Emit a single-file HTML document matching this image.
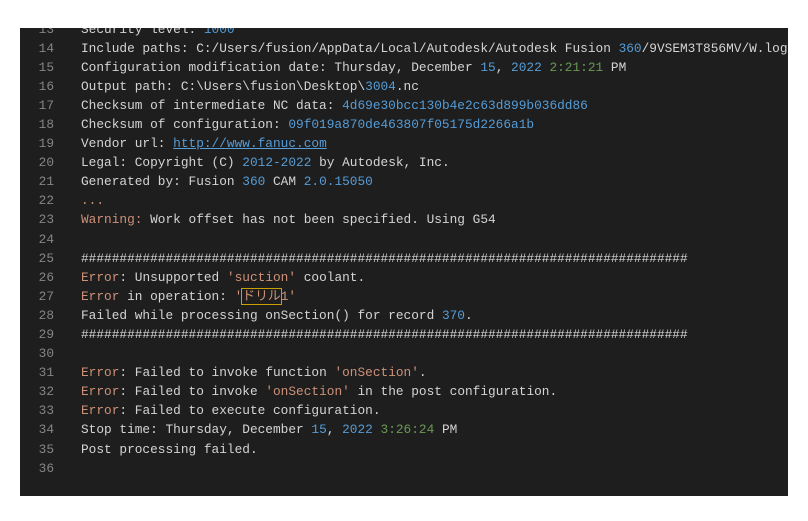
<!DOCTYPE html>
<html><head><meta charset="utf-8"><style>
body{margin:0;width:808px;height:521px;background:#fff;position:relative;overflow:hidden}
#p{position:absolute;left:20px;top:28px;width:768px;height:468px;background:#1e1e1e;overflow:hidden}
#c{position:absolute;left:0;top:-8.5px;font-family:"Liberation Mono","Noto Sans CJK JP",monospace;font-size:12.8px;line-height:19.1px;color:#d4d4d4}
.l{height:19.1px;position:relative}
.n{position:absolute;left:0;width:34px;text-align:right;color:#858585}
.t{position:absolute;left:61px;white-space:pre}
.b{color:#569cd6}.g{color:#6a9955}.e{color:#ce9178}.s{color:#ce9178}
.u{color:#569cd6;text-decoration:underline}
.bx{outline:1px solid #c8a100;color:#ce9178}
</style></head><body><div id="p"><div id="c"><div class="l"><span class="n">13</span><span class="t">Security level: <span class="b">1000</span></span></div><div class="l"><span class="n">14</span><span class="t">Include paths: C:/Users/fusion/AppData/Local/Autodesk/Autodesk Fusion <span class="b">360</span>/9VSEM3T856MV/W.log</span></div><div class="l"><span class="n">15</span><span class="t">Configuration modification date: Thursday, December <span class="b">15</span>, <span class="b">2022</span> <span class="g">2:21:21</span> PM</span></div><div class="l"><span class="n">16</span><span class="t">Output path: C:\Users\fusion\Desktop\<span class="b">3004</span>.nc</span></div><div class="l"><span class="n">17</span><span class="t">Checksum of intermediate NC data: <span class="b">4d69e30bcc130b4e2c63d899b036dd86</span></span></div><div class="l"><span class="n">18</span><span class="t">Checksum of configuration: <span class="b">09f019a870de463807f05175d2266a1b</span></span></div><div class="l"><span class="n">19</span><span class="t">Vendor url: <span class="u">http://www.fanuc.com</span></span></div><div class="l"><span class="n">20</span><span class="t">Legal: Copyright (C) <span class="b">2012-2022</span> by Autodesk, Inc.</span></div><div class="l"><span class="n">21</span><span class="t">Generated by: Fusion <span class="b">360</span> CAM <span class="b">2.0.15050</span></span></div><div class="l"><span class="n">22</span><span class="t"><span class="e">...</span></span></div><div class="l"><span class="n">23</span><span class="t"><span class="e">Warning:</span> Work offset has not been specified. Using G54</span></div><div class="l"><span class="n">24</span><span class="t"></span></div><div class="l"><span class="n">25</span><span class="t">###############################################################################</span></div><div class="l"><span class="n">26</span><span class="t"><span class="e">Error</span>: Unsupported <span class="s">'suction'</span> coolant.</span></div><div class="l"><span class="n">27</span><span class="t"><span class="e">Error</span> in operation: <span class="s">'<span class="bx">ドリル</span>1'</span></span></div><div class="l"><span class="n">28</span><span class="t">Failed while processing onSection() for record <span class="b">370</span>.</span></div><div class="l"><span class="n">29</span><span class="t">###############################################################################</span></div><div class="l"><span class="n">30</span><span class="t"></span></div><div class="l"><span class="n">31</span><span class="t"><span class="e">Error</span>: Failed to invoke function <span class="s">'onSection'</span>.</span></div><div class="l"><span class="n">32</span><span class="t"><span class="e">Error</span>: Failed to invoke <span class="s">'onSection'</span> in the post configuration.</span></div><div class="l"><span class="n">33</span><span class="t"><span class="e">Error</span>: Failed to execute configuration.</span></div><div class="l"><span class="n">34</span><span class="t">Stop time: Thursday, December <span class="b">15</span>, <span class="b">2022</span> <span class="g">3:26:24</span> PM</span></div><div class="l"><span class="n">35</span><span class="t">Post processing failed.</span></div><div class="l"><span class="n">36</span><span class="t"></span></div></div></div></body></html>
